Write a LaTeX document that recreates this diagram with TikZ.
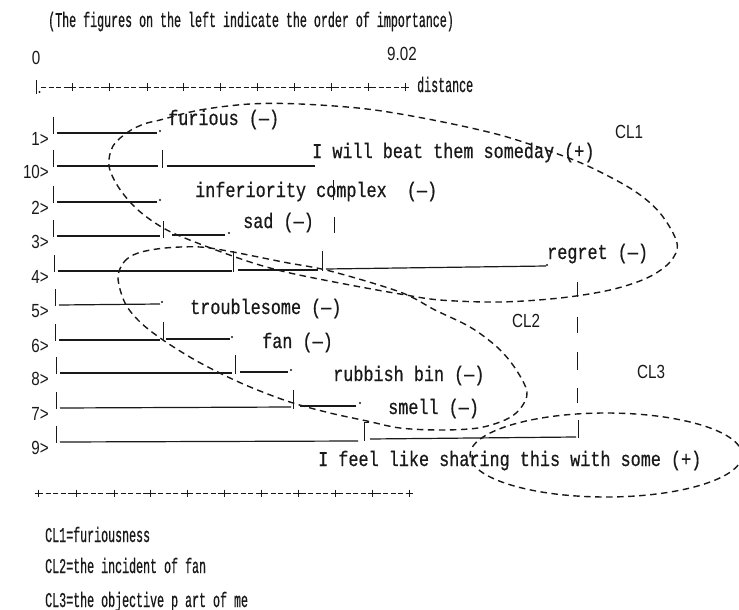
\documentclass[tikz,border=0pt]{standalone}
\usepackage{fontspec}
% narrow typewriter face for notes, wider one for the item words
\newfontfamily\dgmono[FakeStretch=0.555, FakeBold=0.6]{Liberation Mono}
\newfontfamily\dgwide[FakeStretch=0.8, FakeBold=0.6]{Liberation Mono}
\newfontfamily\dgsans[FakeStretch=0.8]{Liberation Sans}
\begin{document}
\begin{tikzpicture}[x=1pt,y=-1pt,
  ink/.style={black!90},
  bar/.style={ink, line width=1.2pt},
  heavybar/.style={ink, line width=1.8pt},
  tickmark/.style={ink, line width=1pt},
  cluster/.style={ink, line width=1.4pt, dash pattern=on 6.5pt off 4.5pt},
  axisdash/.style={ink, line width=1pt, dash pattern=on 5pt off 2.5pt},
  note/.style={font=\dgmono\fontsize{21}{21}\selectfont, anchor=base west, inner sep=0, text=black!90},
  item/.style={font=\dgwide\fontsize{21}{21}\selectfont, anchor=base west, inner sep=0, text=black!90},
  rowlabel/.style={font=\dgsans\fontsize{19}{19}\selectfont, anchor=base east, inner sep=0, text=black!90},
  clname/.style={font=\dgsans\fontsize{19}{19}\selectfont, anchor=base west, inner sep=0, text=black!90},
  enddot/.style={circle, fill=black!90, inner sep=0, minimum size=2.4pt}
]
\useasboundingbox (0,0) rectangle (739,610);

% heading and scale labels
\node[note] (head) at (48,27) {(The figures on the left indicate the order of importance)};
\node[clname, anchor=base] (zero) at (36,64) {0};
\node[clname] (maxd) at (387,60) {9.02};

% distance axis, top
\coordinate (ta0) at (41,87);
\coordinate (ta1) at (405,87);
\draw[tickmark] (36,80) -- (36,94);
\node[enddot] (tadot) at (39.5,92) {};
\draw[axisdash] (ta0) -- (ta1);
\foreach \x in {72,109,147,183,220,257,294,331,368,405}
  \draw[tickmark] (\x-3.5,87) -- (\x+3.5,87) (\x,83.5) -- (\x,90.5);
\node[note] (dist) at (417,92) {distance};

% distance axis, bottom
\coordinate (ba0) at (38,493);
\coordinate (ba1) at (409,493);
\draw[axisdash] (ba0) -- (ba1);
\foreach \x in {38,76,114,150,187,224,261,298,335,372,409}
  \draw[tickmark] (\x-3.5,493) -- (\x+3.5,493) (\x,489.5) -- (\x,496.5);

% row numbers and left stubs
\foreach \lab/\y/\tx in {1/133/53, 10/166/53, 2/202/53, 3/236/53, 4/271/54,
                         5/305/55, 6/340/55, 8/373/56, 7/408/56, 9/442/56} {
  \node[rowlabel] (lab\lab) at (49,\y+12) {\lab>};
  \draw[tickmark] (\tx,\y-16) -- (\tx,\y+1);
}

% row 1
\draw[bar] (57,133) -- (157,133);
\node[enddot] (d1) at (160,131) {};
\node[item] (w1) at (168,125) {furious (—)};
% row 10
\draw[bar] (57,166) -- (158,166);
\draw[tickmark] (162,150) -- (162,168);
\draw[bar] (167,166) -- (315,166);
\node[item] (w10) at (312,158) {I will beat them someday (+)};
% row 2
\draw[bar] (57,202) -- (157,202);
\node[enddot] (d2) at (160,200) {};
\node[item] (w2) at (195,197) {inferiority complex~~(—)};
\draw[tickmark] (333,180) -- (333,200);
% row 3
\draw[bar] (57,236) -- (160,236);
\draw[tickmark] (163,221) -- (163,238);
\draw[heavybar] (172,235) -- (225,235);
\node[enddot] (d3) at (229,233) {};
\node[item] (w3) at (243,228) {sad (—)};
\draw[tickmark] (334,217) -- (334,233);
% row 4
\draw[bar] (58,271) -- (232,271);
\draw[tickmark] (233,251) -- (233,272);
\draw[bar] (238,270) -- (318,270);
\draw[tickmark] (322,251) -- (322,271);
\draw[bar] (326,269) -- (546,266);
\node[enddot] (d4) at (547,265) {};
\node[item] (w4) at (547,259) {regret (—)};
% row 5
\draw[bar] (59,305) -- (160,304);
\node[enddot] (d5) at (162,302) {};
\node[item] (w5) at (190,314) {troublesome (—)};
% row 6
\draw[bar] (59,340) -- (160,340);
\draw[tickmark] (163,322) -- (163,341);
\draw[bar] (166,339) -- (230,339);
\node[enddot] (d6) at (232,337) {};
\node[item] (w6) at (262,348) {fan (—)};
% row 8
\draw[bar] (60,373) -- (232,373);
\draw[tickmark] (235,355) -- (235,374);
\draw[bar] (240,372) -- (288,372);
\node[enddot] (d8) at (291,370) {};
\node[item] (w8) at (333,381) {rubbish bin (—)};
% row 7
\draw[bar] (60,408) -- (291,407);
\draw[tickmark] (293,390) -- (293,409);
\draw[bar] (300,406) -- (356,406);
\node[enddot] (d7) at (360,403) {};
\node[item] (w7) at (388,414) {smell (—)};
% row 9
\draw[bar] (60,442) -- (358,441);
\draw[tickmark] (369,422) -- (364,422) -- (364,441);
\draw[bar] (370,439) -- (576,437);
\draw[tickmark] (578,420) -- (578,438);
\node[item] (w9) at (318,466) {I feel like sharing this with some (+)};
% long link built from stacked bars
\foreach \a/\b in {282/297, 317/333, 352/370, 388/403}
  \draw[tickmark] (577,\a) -- (577,\b);

% cluster outlines
\draw[cluster] plot[smooth cycle, tension=0.55] coordinates {
  (160,120) (200,110) (250,104) (300,104) (367,109) (433,120) (500,135)
  (555,153) (590,167) (633,190) (660,213) (677,243) (670,262) (647,278)
  (610,290) (560,298) (500,302) (440,300) (400,294) (350,285) (290,273)
  (250,262) (200,244) (165,229) (138,210) (119,188) (109,166) (113,146)
  (128,132) (144,124)};
\draw[cluster] plot[smooth cycle, tension=0.55] coordinates {
  (118,278) (124,262) (138,253) (165,248) (200,247) (233,252) (283,262)
  (330,271) (400,292) (435,310) (470,327) (497,347) (515,368) (527,392)
  (520,409) (505,420) (478,428) (440,430) (400,428) (367,421) (330,413)
  (293,403) (260,391) (230,378) (195,360) (163,340) (140,322) (125,303)};
\begin{scope}
  \clip (0,0) rectangle (739,610);
  \draw[cluster] (606,455) ellipse [x radius=136, y radius=42];
\end{scope}

% cluster names
\node[clname] (cl1) at (615,138) {CL1};
\node[clname] (cl2) at (512,327) {CL2};
\node[clname] (cl3) at (637,378) {CL3};

% legend
\node[note] (k1) at (45,542) {CL1=furiousness};
\node[note] (k2) at (45,573) {CL2=the incident of fan};
\node[note] (k3) at (45,607) {CL3=the objective p art of me};
\end{tikzpicture}
\end{document}
